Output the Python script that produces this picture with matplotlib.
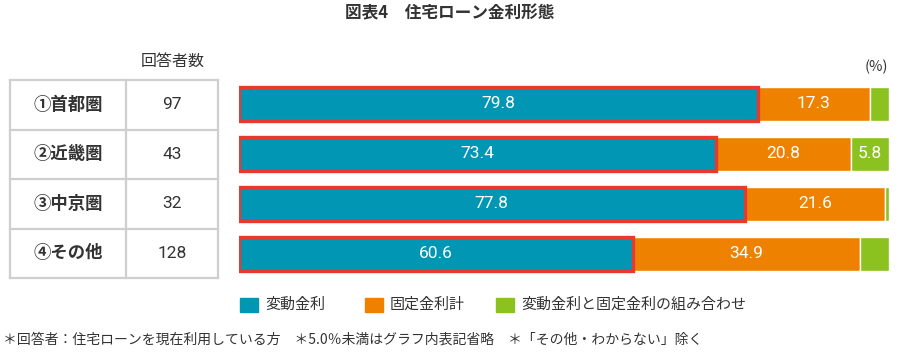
import matplotlib
matplotlib.use('Agg')
import matplotlib.pyplot as plt

plt.rcParams['font.family'] = ['Noto Sans CJK JP', 'DejaVu Sans']

regions = ['①首都圏', '②近畿圏', '③中京圏', '④その他']
respondents = ['97', '43', '32', '128']
variable = [79.8, 73.4, 77.8, 60.6]
fixed = [17.3, 20.8, 21.6, 34.9]
mixed = [2.9, 5.8, 0.6, 4.5]
legend_labels = ['変動金利', '固定金利計', '変動金利と固定金利の組み合わせ']
colors = ['#0096b4', '#ee8200', '#8cc21f']
border = '#e8392e'

W, H = 900, 356
fig = plt.figure(figsize=(W / 100, H / 100), dpi=100)

# overlay axes in pixel coordinates for text and the table grid
ov = fig.add_axes([0, 0, 1, 1])
ov.set_xlim(0, W)
ov.set_ylim(H, 0)
ov.axis('off')

ov.text(450, 13, '図表4　住宅ローン金利形態', ha='center', va='center',
        fontsize=12, fontweight='bold', color='#333333')
ov.text(173, 61, '回答者数', ha='center', va='center', fontsize=11.5, color='#333333')
ov.text(876, 67, '(%)', ha='center', va='center', fontsize=10.5, color='#333333')

# table
gc = '#cfcfcf'
top, rowh, left, mid, right = 80, 49.5, 10, 126, 218
for i in range(len(regions) + 1):
    ov.plot([left, right], [top + i * rowh] * 2, color=gc, lw=1.6)
for x in (left, mid, right):
    ov.plot([x, x], [top, top + len(regions) * rowh], color=gc, lw=1.6)
for i, (r, n) in enumerate(zip(regions, respondents)):
    yc = top + (i + 0.5) * rowh
    ov.text(68, yc, r, ha='center', va='center', fontsize=12.5,
            fontweight='bold', color='#333333')
    ov.text(172, yc, n, ha='center', va='center', fontsize=12.5, color='#333333',
            family=['Roboto', 'DejaVu Sans'])

# bars
ax = fig.add_axes([239 / W, 1 - 279 / H, 650 / W, 200 / H])
ax.set_xlim(0, 100)
ax.set_ylim(len(regions) - 0.5, -0.5)
ax.axis('off')
ys = list(range(len(regions)))
h = 0.68
fixed_left = variable
mixed_left = [a + b for a, b in zip(variable, fixed)]
ax.barh(ys, variable, height=h, color=colors[0], edgecolor=border, linewidth=2.4, zorder=3)
ax.barh(ys, fixed, left=fixed_left, height=h, color=colors[1], edgecolor='white', linewidth=1)
ax.barh(ys, mixed, left=mixed_left, height=h, color=colors[2], edgecolor='white', linewidth=1)

for y in ys:
    for val, lft in ((variable[y], 0), (fixed[y], fixed_left[y]), (mixed[y], mixed_left[y])):
        if val >= 5.0:
            ax.text(lft + val / 2, y, f'{val:.1f}', ha='center', va='center',
                    color='white', fontsize=12.5, family=['Roboto', 'DejaVu Sans'], zorder=4)

# legend
for (lx, lab), c in zip(((240, legend_labels[0]), (365, legend_labels[1]), (496, legend_labels[2])), colors):
    ov.add_patch(plt.Rectangle((lx, 298), 18, 14, color=c))
    ov.text(lx + 25, 305, lab, ha='left', va='center', fontsize=10.8, color='#333333')

ov.text(3, 340, '＊回答者：住宅ローンを現在利用している方　＊5.0％未満はグラフ内表記省略　＊「その他・わからない」除く',
        ha='left', va='center', fontsize=10, color='#333333')

fig.savefig('out.png', dpi=100)
